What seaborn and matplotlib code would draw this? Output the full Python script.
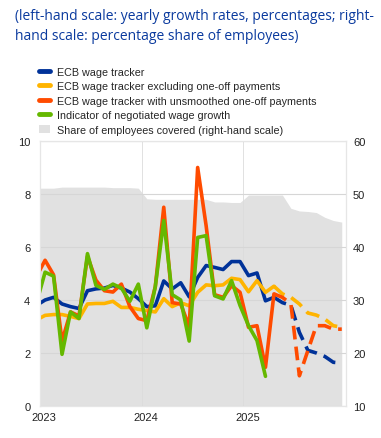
import numpy as np
import pandas as pd
import seaborn as sns
import matplotlib
matplotlib.use("Agg")
import matplotlib.pyplot as plt
import matplotlib.transforms as mtransforms
from matplotlib.lines import Line2D
from matplotlib.patches import Patch

# monthly observations, Dec 2022 .. Dec 2025
months = pd.date_range("2022-12-01", "2025-12-01", freq="MS")

tracker = [3.8, 4.0, 4.1, 3.85, 3.75, 3.68, 4.35, 4.42, 4.45, 4.55, 4.45, 4.3, 4.05,
           3.75, 3.78, 4.72, 4.42, 4.65, 4.12, 4.85, 5.3, 5.23, 5.15, 5.45, 5.45,
           4.92, 5.02, 3.97, 4.1, 3.9, 3.8, 2.78, 2.1, 2.0, 1.87, 1.65, 1.62]
tracker_ex = [3.25, 3.42, 3.45, 3.45, 3.38, 3.3, 3.85, 3.87, 3.87, 3.95, 3.72, 3.72, 3.65,
              3.6, 3.55, 4.05, 3.75, 3.9, 3.78, 4.29, 4.57, 4.54, 4.57, 4.82, 4.77,
              4.31, 4.73, 4.29, 4.52, 4.23, 4.1, 3.85, 3.51, 3.43, 3.28, 3.03, 2.97]
tracker_unsm = [4.9, 5.5, 4.95, 2.45, 3.55, 3.4, 5.65, 4.75, 4.35, 4.3, 4.6, 3.75, 3.3,
                3.22, 4.5, 7.5, 3.9, 3.85, 3.0, 9.0, 6.8, 4.2, 4.1, 4.54, 4.29,
                2.97, 3.03, 1.46, 4.23, 4.1, 3.85, 1.14, 2.09, 3.03, 3.03, 2.9, 2.9]
negotiated = [3.9, 5.05, 4.9, 1.95, 3.55, 3.3, 5.75, 4.55, 4.4, 4.6, 4.45, 3.95, 4.6,
              2.95, 4.5, 7.0, 4.2, 4.0, 2.45, 6.36, 6.43, 4.16, 4.04, 4.73, 3.79,
              3.03, 2.47, 1.12]
share = [51.1, 51.1, 51.1, 51.3, 51.3, 51.3, 51.3, 51.3, 51.3, 51.2, 51.2, 51.2, 51.1,
         49.1, 49.0, 49.0, 49.0, 49.0, 49.0, 49.0, 49.0, 48.5, 48.5, 48.4, 48.4,
         49.8, 49.8, 49.8, 49.8, 49.8, 47.3, 46.8, 46.7, 46.5, 45.6, 45.0, 44.7]
last_actual = "2025-04"  # projections (dashed) start here

labels = ["ECB wage tracker",
          "ECB wage tracker excluding one-off payments",
          "ECB wage tracker with unsmoothed one-off payments",
          "Indicator of negotiated wage growth",
          "Share of employees covered (right-hand scale)"]
colors = ["#003299", "#ffb400", "#ff4b00", "#65b800", "#e1e1e1"]

# x position in months from Jan 2023, points drawn mid-month
pos = (months.year - 2023) * 12 + months.month - 1 + 0.6
df = pd.DataFrame({"x": pos, "month": months.strftime("%Y-%m"),
                   "tracker": tracker, "tracker_ex": tracker_ex,
                   "tracker_unsm": tracker_unsm,
                   "negotiated": negotiated + [np.nan] * (len(months) - len(negotiated)),
                   "share": share})
cut = df.index[df["month"] == last_actual][0]

sns.set_style("white")
plt.rcParams["font.family"] = ["Liberation Sans", "DejaVu Sans"]

fig = plt.figure(figsize=(3.81, 4.39), dpi=100)
ax = fig.add_axes([40 / 381, 1 - 407 / 439, 306 / 381, 265 / 439])
ax2 = ax.twinx()

ax2.fill_between(df["x"], 10, df["share"], color=colors[4], lw=0)
ax2.set_ylim(10, 60)
ax.set_zorder(ax2.get_zorder() + 1)
ax.patch.set_visible(False)

lw = 2.6
for col, c in zip(["tracker", "tracker_ex", "tracker_unsm"], colors[:3]):
    sns.lineplot(data=df.iloc[:cut + 1], x="x", y=col, ax=ax, color=c, lw=lw, legend=False)
    sns.lineplot(data=df.iloc[cut:], x="x", y=col, ax=ax, color=c, lw=lw, legend=False,
                 dashes=False, linestyle=(0, (3.8, 2.0)))
sns.lineplot(data=df.dropna(subset=["negotiated"]), x="x", y="negotiated", ax=ax,
             color=colors[3], lw=lw, legend=False)

ax.set_xlim(0, 36.1)
ax.set_ylim(0, 10)
ax.set_yticks(range(0, 11, 2))
ax.set_xticks([0, 12, 24])
ax.set_xticklabels(["2023", "2024", "2025"])
ax2.set_yticks(range(10, 61, 10))
ax.set_xlabel("")
ax.set_ylabel("")
ax.grid(True, axis="y", color="#d6d6d6", lw=0.8)
ax.grid(True, axis="x", color="#dcdcdc", lw=0.6)
for a in (ax, ax2):
    a.tick_params(length=0, labelsize=8, colors="#222222")
    for s in a.spines.values():
        s.set_color("#e6e6e6")
        s.set_linewidth(0.8)
ax.tick_params(axis="y", pad=7)
ax2.tick_params(axis="y", pad=5)
ax.tick_params(axis="x", pad=4)
off = mtransforms.ScaledTranslation(4 / 100, 0, fig.dpi_scale_trans)
for t in ax.get_xticklabels():
    t.set_transform(t.get_transform() + off)

handles = [Line2D([], [], color=c, lw=3.5) for c in colors[:4]]
handles.append(Patch(facecolor=colors[4], edgecolor="none"))
fig.legend(handles, labels, loc="upper left", bbox_to_anchor=(39 / 381, 1 - 67.5 / 439),
           frameon=False, fontsize=7.75, handlelength=1.0, handleheight=0.8,
           handletextpad=0.68, labelspacing=0.42, borderaxespad=0, borderpad=0)

fig.text(15 / 381, 1 - 9.5 / 439,
         "(left-hand scale: yearly growth rates, percentages; right-\nhand scale: percentage share of employees)",
         ha="left", va="top", fontsize=10, color="#0a3a9e", family="Open Sans",
         linespacing=1.42)

fig.savefig("out.png", dpi=100)
